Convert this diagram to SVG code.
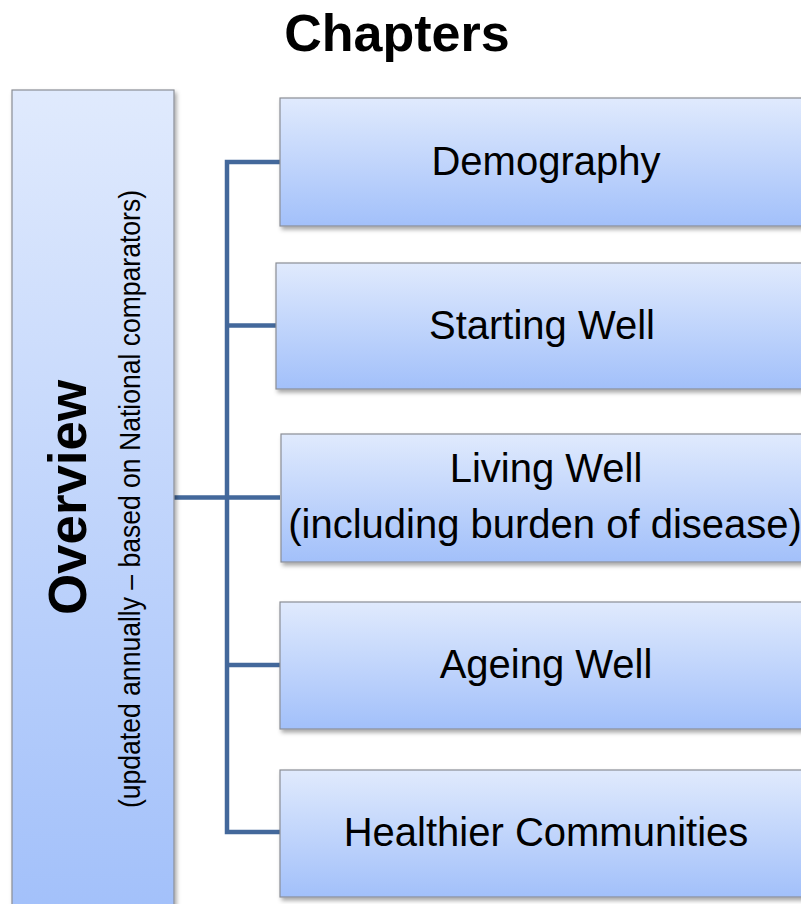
<svg xmlns="http://www.w3.org/2000/svg" width="801" height="904" viewBox="0 0 801 904">
<defs>
<linearGradient id="g" x1="0" y1="0" x2="0" y2="1">
<stop offset="0" stop-color="#e0eafd"/>
<stop offset="1" stop-color="#a2c0fa"/>
</linearGradient>
<filter id="sh" x="-10%" y="-10%" width="130%" height="130%">
<feDropShadow dx="2" dy="3" stdDeviation="2" flood-color="#000" flood-opacity="0.35"/>
</filter>
<style>
.box{fill:url(#g);stroke:#8a8e96;stroke-width:1.2;filter:url(#sh)}
.t{font-family:"Liberation Sans",Arial,sans-serif;font-size:40px;fill:#000;text-anchor:middle}
.con{fill:none;stroke:#43689b;stroke-width:4.5}
</style>
</defs>
<rect width="801" height="904" fill="#fff"/>
<text x="397" y="51" font-family="Liberation Sans,Arial,sans-serif" font-size="52" font-weight="bold" text-anchor="middle">Chapters</text>
<g id="connectors">
<path class="con" d="M174 497.5H280M280 162H227V832H280M227 325.5H276M227 665H280"/>
</g>
<g id="overview">
<rect class="box" x="12" y="90" width="162" height="830"/>
<text transform="translate(86,497.5) rotate(-90)" font-family="Liberation Sans,Arial,sans-serif" font-size="54" font-weight="bold" text-anchor="middle" textLength="235" lengthAdjust="spacingAndGlyphs">Overview</text>
<text transform="translate(140,499) rotate(-90)" font-family="Liberation Sans,Arial,sans-serif" font-size="29" text-anchor="middle" textLength="618" lengthAdjust="spacingAndGlyphs">(updated annually – based on National comparators)</text>
</g>
<g id="demography">
<rect class="box" x="280" y="98" width="540" height="128"/>
<text class="t" x="546" y="175">Demography</text>
</g>
<g id="starting-well">
<rect class="box" x="276" y="263" width="545" height="126"/>
<text class="t" x="542" y="339">Starting Well</text>
</g>
<g id="living-well">
<rect class="box" x="281" y="434" width="540" height="128"/>
<text class="t" x="546" y="482">Living Well</text>
<text class="t" x="545" y="538">(including burden of disease)</text>
</g>
<g id="ageing-well">
<rect class="box" x="280" y="602" width="540" height="127"/>
<text class="t" x="546" y="678">Ageing Well</text>
</g>
<g id="healthier-communities">
<rect class="box" x="280" y="770" width="540" height="127"/>
<text class="t" x="546" y="846">Healthier Communities</text>
</g>
</svg>
